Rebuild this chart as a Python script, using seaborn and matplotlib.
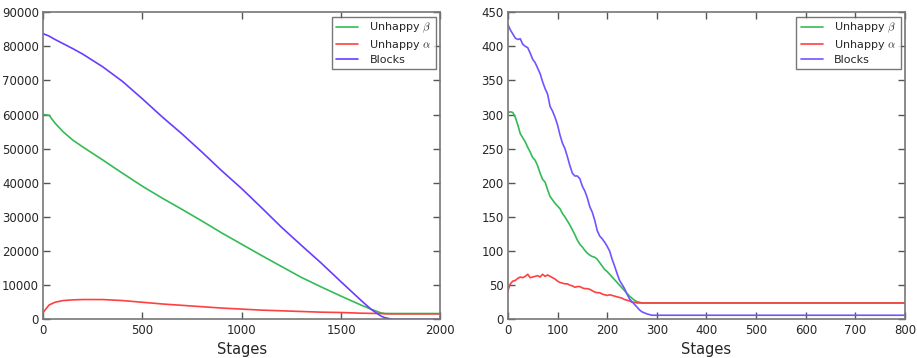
import matplotlib
matplotlib.use("Agg")
import matplotlib.pyplot as plt
import seaborn as sns
import pandas as pd

# left panel: large run, 2000 stages
stages_l = [0, 30, 60, 100, 150, 200, 300, 400, 500, 600, 700, 800, 900, 1000,
            1100, 1200, 1300, 1400, 1500, 1600, 1650, 1700, 1720, 1760, 1800, 1900, 2000]
beta_l = [60000, 59800, 57500, 55000, 52500, 50500, 46700, 42800, 39000, 35500, 32200,
          28800, 25300, 22000, 18700, 15500, 12300, 9500, 6800, 4200, 3000, 1900, 1700,
          1700, 1700, 1700, 1700]
alpha_l = [2000, 4200, 5000, 5500, 5700, 5800, 5800, 5500, 5000, 4500, 4100, 3700, 3300,
           3000, 2700, 2500, 2300, 2100, 2000, 1800, 1750, 1700, 1650, 1600, 1600, 1600, 1600]
blocks_l = [83700, 83000, 82000, 80800, 79300, 77700, 74000, 69700, 64600, 59300, 54300,
            49000, 43500, 38300, 32700, 27000, 21700, 16500, 11000, 5600, 3000, 1000, 500,
            0, 0, 0, 0]

# right panel: small run, 800 stages
stages_r = [0, 5, 10, 15, 20, 25, 30, 35, 40, 45, 50, 55, 60, 65, 70, 75, 80, 85, 90, 95,
            100, 105, 110, 115, 120, 125, 130, 135, 140, 145, 150, 155, 160, 165, 170, 175,
            180, 185, 190, 195, 200, 205, 210, 215, 220, 225, 230, 235, 240, 245, 250, 255,
            260, 265, 270, 280, 290, 295, 300, 400, 500, 600, 700, 800]
beta_r = [303, 304, 303, 296, 285, 272, 266, 260, 252, 245, 237, 233, 225, 214, 205, 201,
          190, 180, 175, 170, 166, 162, 155, 150, 144, 138, 131, 124, 116, 110, 106, 101,
          97, 94, 92, 91, 88, 83, 78, 73, 70, 66, 62, 58, 54, 50, 46, 42, 38, 34, 31, 28,
          26, 25, 24, 24, 24, 24, 24, 24, 24, 24, 24, 24]
alpha_r = [42, 52, 56, 57, 60, 62, 61, 63, 66, 61, 62, 63, 64, 62, 66, 63, 65, 63, 61, 59,
           56, 54, 53, 52, 52, 50, 49, 47, 48, 48, 46, 45, 45, 44, 42, 40, 39, 39, 37, 36,
           35, 36, 35, 34, 33, 32, 31, 29, 28, 27, 25, 25, 24, 24, 24, 24, 24, 24, 24, 24,
           24, 24, 24, 24]
blocks_r = [432, 424, 418, 412, 410, 411, 403, 400, 398, 390, 381, 376, 368, 360, 348, 338,
            330, 312, 305, 296, 285, 270, 258, 250, 238, 225, 214, 210, 210, 206, 195, 188,
            178, 165, 157, 145, 130, 122, 118, 113, 107, 100, 88, 78, 67, 57, 51, 45, 37,
            30, 26, 22, 18, 14, 11, 8, 6, 6, 6, 6, 6, 6, 6, 6]

labels = [r"Unhappy $\beta$", r"Unhappy $\alpha$", "Blocks"]
colors_l = ["#33bb55", "#ff4040", "#6a3cff"]
colors_r = ["#33bb55", "#ff4040", "#6f55ff"]


def make_frame(x, series):
    frames = []
    for lab, vals in zip(labels, series):
        frames.append(pd.DataFrame({"Stages": x, "value": vals, "series": lab}))
    return pd.concat(frames, ignore_index=True)


sns.set_style("white")
plt.rcParams["font.family"] = ["DejaVu Sans"]
plt.rcParams["mathtext.fontset"] = "cm"

fig, axes = plt.subplots(1, 2, figsize=(9.17, 3.58), dpi=100)

panels = [
    (axes[0], make_frame(stages_l, [beta_l, alpha_l, blocks_l]), colors_l, 2000, 90000, 500, 10000),
    (axes[1], make_frame(stages_r, [beta_r, alpha_r, blocks_r]), colors_r, 800, 450, 100, 50),
]

for ax, df, pal, xmax, ymax, xstep, ystep in panels:
    sns.lineplot(data=df, x="Stages", y="value", hue="series", palette=pal,
                 ax=ax, linewidth=1.2, estimator=None, sort=False)
    ax.set_xlim(0, xmax)
    ax.set_ylim(0, ymax)
    ax.set_xticks(range(0, xmax + 1, xstep))
    ax.set_yticks(range(0, ymax + 1, ystep))
    ax.set_xlabel("Stages", fontsize=10.5)
    ax.set_ylabel("")
    ax.tick_params(direction="in", bottom=True, left=True, top=True, right=True,
                   length=5, width=1.0, color="#555555", labelsize=8.5, pad=3)
    for s in ax.spines.values():
        s.set_color("#777777")
        s.set_linewidth(1.2)
    leg = ax.legend(loc="upper right", fontsize=8, frameon=True, fancybox=False,
                    borderpad=0.4, handlelength=2.0, handletextpad=1.0, labelspacing=0.25,
                    borderaxespad=0.4)
    leg.get_frame().set_edgecolor("#555555")
    leg.get_frame().set_linewidth(1.0)

fig.subplots_adjust(left=0.047, right=0.987, top=0.966, bottom=0.108, wspace=0.17)
fig.savefig("out.png", dpi=100)
